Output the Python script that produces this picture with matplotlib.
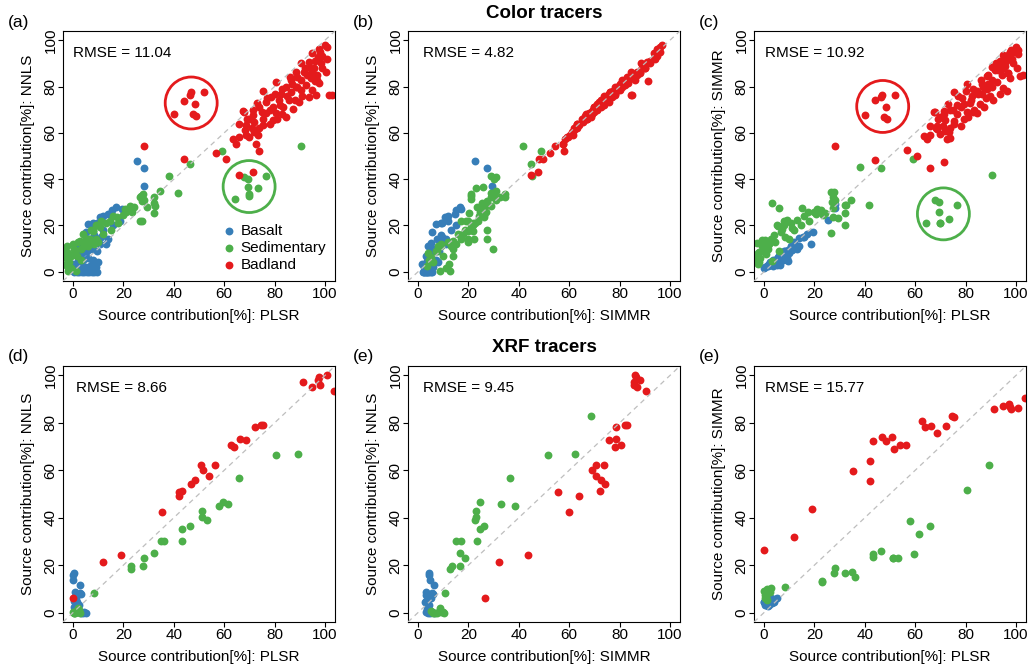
import numpy as np
import matplotlib.pyplot as plt
from matplotlib.ticker import MultipleLocator

plt.rcParams['font.family'] = ['Liberation Sans', 'DejaVu Sans']
plt.rcParams['font.size'] = 11

# Source contributions [%] per sample, columns: PLSR, NNLS, SIMMR
# --- colour tracers ---
color_basalt = [
    (0.5, 0.0, 2.0), (1.5, 0.0, 2.5), (2.5, 0.0, 3.0), (3.5, 0.0, 2.5), (4.5, 0.0, 3.5),
    (5.5, 0.0, 4.0), (6.5, 0.0, 3.0), (7.5, 0.0, 5.0), (8.5, 0.0, 5.5), (9.5, 0.0, 4.5),
    (1.0, 2.0, 2.5), (3.0, 2.5, 4.0), (5.0, 2.0, 3.0), (7.0, 3.0, 5.5), (9.0, 2.0, 6.0),
    (2.0, 4.5, 3.5), (4.0, 5.0, 4.5), (6.0, 6.0, 5.0), (8.0, 5.0, 7.0), (10.0, 4.0, 8.0),
    (1.5, 7.0, 3.0), (3.5, 8.0, 5.0), (5.5, 9.0, 6.5), (7.5, 10.0, 6.0), (9.5, 9.0, 8.5),
    (2.5, 11.0, 4.0), (4.5, 12.5, 5.0), (6.5, 14.0, 7.5), (8.5, 16.0, 9.0), (10.5, 12.0, 11.0),
    (5.0, 17.0, 5.5), (6.0, 20.5, 7.0), (8.0, 21.0, 9.0), (9.5, 21.0, 9.5), (10.5, 23.5, 10.5),
    (12.0, 24.0, 12.0), (14.0, 25.0, 14.5), (15.5, 26.5, 15.0), (17.0, 28.0, 16.5),
    (12.0, 18.0, 13.0), (14.0, 14.0, 11.0), (16.0, 20.0, 15.0), (18.5, 22.0, 12.0),
    (19.5, 27.0, 17.0), (11.0, 15.0, 9.5), (13.0, 12.0, 10.0), (0.0, 3.5, 1.5),
    (25.2, 48.0, 22.5), (28.3, 45.0, 27.5), (28.2, 36.9, 29.3),
]
color_sedimentary = [
    (90.5, 54.3, 41.7), (59.2, 52.2, 48.8), (46.3, 46.7, 44.7), (38.1, 41.3, 45.3),
    (41.7, 34.1, 28.9), (34.6, 34.7, 31.0), (32.2, 32.2, 29.0), (32.0, 29.8, 25.5),
    (32.0, 25.3, 20.2), (29.3, 27.9, 23.4), (26.6, 21.8, 16.9), (27.8, 33.7, 34.6),
    (27.2, 32.2, 32.5), (28.1, 31.1, 31.0), (27.5, 30.5, 27.5), (26.8, 32.8, 30.0),
    (67.7, 40.9, 31.0), (69.4, 40.2, 30.2), (76.6, 41.3, 29.0), (69.4, 36.6, 25.8),
    (73.4, 36.1, 22.9), (70.0, 33.4, 21.2), (69.7, 32.9, 21.2), (64.1, 31.5, 21.2),
    (-3.5, 9.0, 7.0), (-3.0, 3.5, 12.3), (-3.3, 6.5, 5.0), (-2.5, 11.0, 8.0),
    (-2.0, 8.0, 4.0), (-1.0, 6.9, 13.9), (-1.5, 4.0, 6.0), (0.0, 12.0, 9.0),
    (0.5, 10.0, 13.7), (0.8, 9.1, 7.5), (1.5, 7.0, 10.0), (2.0, 13.0, 12.0),
    (2.8, 13.4, 14.0), (3.3, 9.8, 29.6), (3.0, 5.0, 4.5), (4.1, 16.3, 16.0),
    (4.5, 11.0, 13.0), (5.0, 14.0, 20.0), (6.0, 14.2, 27.4), (6.7, 14.2, 17.0),
    (7.0, 18.0, 18.5), (8.0, 17.8, 20.0), (8.5, 12.0, 15.0), (9.0, 20.0, 22.0),
    (10.7, 19.2, 21.0), (11.0, 22.0, 19.0), (12.0, 16.3, 18.0), (13.0, 21.0, 22.5),
    (14.6, 22.1, 20.0), (15.0, 18.0, 27.4), (16.0, 24.0, 24.0), (17.3, 23.5, 26.0),
    (18.0, 21.0, 22.0), (19.9, 24.3, 26.0), (20.5, 27.0, 25.0), (21.2, 25.7, 27.0),
    (22.6, 28.6, 26.5), (23.5, 26.0, 24.5), (24.0, 28.0, 25.5), (26.5, 32.2, 34.6),
    (27.2, 22.1, 23.8), (32.4, 28.6, 28.9), (9.0, 14.0, 22.4), (8.0, 17.5, 22.0),
    (5.5, 13.0, 19.8), (-2.0, 0.5, 8.6), (-1.0, 1.5, 11.0), (1.0, 0.5, 12.5),
    (-2.5, 2.5, 3.5), (6.0, 11.0, 9.0), (10.0, 13.0, 14.0),
]
color_badland = [
    # circled group
    (51.8, 77.6, 76.3), (46.7, 77.7, 76.2), (46.6, 76.3, 75.6), (44.0, 73.8, 74.3),
    (48.5, 72.4, 71.1), (40.0, 68.1, 67.8), (47.6, 68.1, 66.8), (49.0, 67.3, 66.1),
    # scattered
    (28.1, 54.3, 54.5), (44.0, 48.7, 48.2), (56.9, 51.3, 52.5), (60.8, 48.8, 49.8),
    (65.8, 41.6, 45.0), (71.6, 43.0, 47.5), (72.7, 55.3, 57.4), (74.0, 52.2, 57.8),
    (64.8, 55.3, 57.5), (63.5, 57.5, 58.5), (67.5, 69.5, 69.0),
    # main cloud
    (101.0, 97.3, 96.0), (97.8, 96.1, 95.0), (95.0, 94.4, 93.5), (97.4, 92.9, 94.0),
    (93.8, 90.8, 91.0), (98.4, 90.0, 92.0), (90.5, 90.0, 88.5), (95.8, 87.9, 89.0),
    (91.8, 86.4, 87.0), (100.4, 86.4, 88.0), (88.5, 86.4, 84.5), (97.0, 85.0, 86.0),
    (94.5, 83.5, 85.0), (90.5, 82.8, 83.0), (86.5, 82.8, 81.0), (97.7, 81.4, 83.5),
    (92.5, 80.6, 82.0), (88.5, 79.9, 79.0), (84.6, 79.9, 78.0), (80.6, 82.1, 81.0),
    (95.0, 78.5, 79.5), (90.5, 78.5, 80.0), (86.5, 77.7, 77.0), (82.6, 77.0, 76.0),
    (101.7, 76.3, 84.5), (103.0, 76.3, 85.0), (96.4, 76.3, 78.0), (93.8, 75.6, 77.0),
    (75.3, 78.2, 77.5), (78.6, 75.6, 75.0), (81.9, 74.1, 73.0), (85.9, 74.1, 72.5),
    (89.8, 73.4, 76.0), (76.6, 73.4, 72.0), (79.3, 71.2, 72.5), (83.2, 71.2, 70.0),
    (87.2, 70.5, 71.0), (74.0, 71.2, 70.0), (71.4, 69.8, 69.5), (76.6, 68.4, 68.0),
    (80.6, 68.4, 69.0), (84.6, 66.9, 68.5), (68.0, 69.1, 69.0), (71.4, 67.6, 68.0),
    (75.3, 66.2, 65.0), (79.3, 65.5, 66.0), (72.0, 64.7, 65.5), (68.7, 63.3, 63.0),
    (75.3, 63.3, 64.0), (68.1, 61.1, 62.0), (72.0, 60.4, 61.0), (70.0, 58.2, 59.5),
    (73.3, 59.0, 60.5), (68.7, 59.0, 61.5),
    (92.0, 88.0, 90.0), (96.0, 91.0, 92.0), (99.0, 93.0, 95.0), (89.0, 84.0, 85.0),
    (93.0, 85.0, 87.0), (87.0, 81.0, 80.0), (83.0, 79.0, 79.0), (85.0, 76.0, 77.0),
    (91.0, 76.0, 74.0), (88.0, 74.0, 75.0), (82.0, 72.0, 74.0), (78.0, 70.0, 71.0),
    (80.0, 77.0, 78.0), (86.0, 84.0, 83.0), (94.0, 88.0, 89.0), (99.0, 88.0, 90.0),
    (77.0, 75.0, 76.0), (73.0, 73.0, 72.5), (70.0, 66.0, 67.0), (66.0, 64.0, 63.0),
    (69.0, 66.0, 66.0), (75.0, 69.0, 70.0), (81.0, 66.0, 67.0), (83.0, 68.0, 69.0),
    (78.0, 64.0, 63.0), (74.0, 62.0, 62.0), (66.0, 58.0, 59.0), (71.0, 62.0, 63.0),
    (89.0, 80.0, 81.0), (97.0, 83.0, 86.0), (101.0, 92.0, 94.0), (95.0, 86.0, 88.0),
    (98.0, 95.0, 96.0), (100.0, 98.0, 97.0), (96.0, 82.4, 91.1),
]

# --- XRF tracers ---
xrf_basalt = [
    (0.0, 15.8, 4.4), (0.0, 13.7, 4.6), (0.3, 16.5, 4.2), (2.6, 11.6, 6.2), (0.7, 8.8, 3.3),
    (2.6, 8.1, 5.5), (1.1, 6.0, 5.0), (1.6, 4.6, 2.8), (0.3, 2.5, 4.0), (2.0, 0.4, 3.3),
    (4.0, 0.0, 4.6), (5.0, 0.0, 6.2), (3.3, 0.0, 4.0), (1.0, 7.5, 3.0), (3.0, 8.0, 5.8),
    (4.5, 0.2, 5.5), (1.5, 1.5, 3.5), (0.5, 5.0, 3.2), (2.2, 3.0, 4.5),
]
xrf_sedimentary = [
    (8.3, 8.4, 10.8), (22.9, 19.7, 13.4), (23.1, 18.2, 12.7), (27.7, 19.7, 16.5),
    (28.0, 22.8, 18.6), (32.0, 24.9, 16.6), (35.1, 30.2, 16.9), (36.1, 30.0, 15.1),
    (43.1, 35.1, 24.6), (43.3, 30.2, 23.3), (46.5, 36.7, 26.0), (51.3, 43.0, 23.0),
    (51.2, 40.2, 23.1), (53.1, 39.2, 22.8), (57.9, 45.1, 38.5), (59.7, 46.5, 24.6),
    (61.4, 45.8, 33.0), (66.0, 56.7, 36.6), (80.4, 66.6, 51.7), (89.4, 67.0, 62.4),
    (108.0, 82.8, 68.7),
    (0.5, 0.0, 7.4), (1.3, 0.1, 9.9), (1.8, 1.8, 8.8), (0.0, 0.3, 9.1), (0.4, 0.0, 6.0),
    (2.6, 0.0, 10.3), (1.0, 0.5, 5.3), (0.8, 0.0, 6.6), (2.2, 1.0, 8.6),
]
xrf_badland = [
    (0.0, 6.3, 26.4), (11.8, 21.4, 32.0), (19.2, 24.2, 43.6), (35.2, 42.2, 59.8),
    (41.9, 50.7, 55.4), (41.9, 49.3, 64.0), (43.2, 51.4, 72.3), (46.9, 54.2, 74.2),
    (48.5, 56.0, 72.5), (50.6, 62.2, 73.9), (51.6, 60.2, 68.9), (53.8, 57.7, 70.7),
    (56.2, 62.2, 70.7), (62.8, 70.5, 80.6), (63.9, 70.0, 78.2), (66.4, 73.3, 78.6),
    (68.8, 72.9, 75.7), (72.3, 78.2, 78.6), (74.7, 79.3, 83.1), (75.4, 78.9, 82.3),
    (91.4, 97.1, 85.9), (94.7, 95.1, 87.0), (97.8, 99.3, 86.7), (97.1, 98.2, 88.0),
    (98.2, 96.1, 85.9), (100.7, 100.1, 86.3), (103.7, 93.3, 90.5),
]

sources = ['Basalt', 'Sedimentary', 'Badland']
colors = ['#377EB8', '#4DAF4A', '#E41A1C']
methods = ['PLSR', 'NNLS', 'SIMMR']

panel_labels = ['(a)', '(b)', '(c)', '(d)', '(e)', '(e)']
panel_x = ['PLSR', 'SIMMR', 'PLSR', 'PLSR', 'SIMMR', 'PLSR']
panel_y = ['NNLS', 'NNLS', 'SIMMR', 'NNLS', 'NNLS', 'SIMMR']
rmse = [11.04, 4.82, 10.92, 8.66, 9.45, 15.77]
row_titles = ['Color tracers', 'XRF tracers']

# circled groups (panel, centre x, centre y, colour index)
circle_panel = [0, 0, 2, 2]
circle_x = [46.9, 69.9, 47.1, 71.2]
circle_y = [72.9, 36.8, 71.4, 25.0]
circle_src = [2, 1, 2, 1]

W, H = 1033, 671
fig = plt.figure(figsize=(W / 100, H / 100), dpi=100)

col_left = [63, 408, 754]
row_box = [(31, 281), (366, 622)]
box_w = 272
rmse_dx = [10, 15, 11, 13, 15, 11]

datasets = [[color_basalt, color_sedimentary, color_badland],
            [xrf_basalt, xrf_sedimentary, xrf_badland]]

axes = []
for i in range(6):
    row, col = divmod(i, 3)
    top, bot = row_box[row]
    ax = fig.add_axes([col_left[col] / W, 1 - bot / H, box_w / W, (bot - top) / H])
    axes.append(ax)
    xi = methods.index(panel_x[i])
    yi = methods.index(panel_y[i])

    for src, colr, data in zip(sources, colors, datasets[row]):
        arr = np.array(data)
        ax.scatter(arr[:, xi], arr[:, yi], s=32, color=colr, linewidths=0,
                   zorder=2, label=src)

    ax.axline((0, 0), (1, 1), color='#BEBEBE', lw=0.9, ls=(0, (4, 3.3)), zorder=3)

    ax.set_xlim(-4, 104)
    ax.set_ylim(-4, 104)
    ax.xaxis.set_major_locator(MultipleLocator(20))
    ax.yaxis.set_major_locator(MultipleLocator(20))
    ax.tick_params(direction='out', length=3.5, width=0.8, pad=0.5, labelsize=11)
    for lab in ax.get_yticklabels():
        lab.set_rotation(90)
        lab.set_va('center')
    for sp in ax.spines.values():
        sp.set_linewidth(0.8)

    ax.set_xlabel(f'Source contribution[%]: {panel_x[i]}')
    ax.set_ylabel(f'Source contribution[%]: {panel_y[i]}')
    ax.xaxis.set_label_coords(0.5, -35 / (bot - top))
    ax.xaxis.label.set_va('center')
    ax.yaxis.set_label_coords(-35 / box_w, 0.5)
    ax.yaxis.label.set_va('center')

    ax.annotate(f'RMSE = {rmse[i]:.2f}', xy=(0, 1), xycoords='axes fraction',
                xytext=(rmse_dx[i], -22), textcoords='offset pixels',
                ha='left', va='center', fontsize=11)

    fig.text((col_left[col] - 55) / W, 1 - (top - 9) / H, panel_labels[i],
             ha='left', va='center', fontsize=12.5)

for p, cx, cy, s in zip(circle_panel, circle_x, circle_y, circle_src):
    axes[p].scatter([cx], [cy], s=1400, facecolors='none', edgecolors=colors[s],
                    linewidths=2, zorder=4)

axes[0].legend(loc='lower left', bbox_to_anchor=(0.59, 0.035), frameon=False,
               scatterpoints=1, handlelength=0.7, handletextpad=0.4,
               labelspacing=0.2, borderpad=0, borderaxespad=0, fontsize=11)

for row, title in enumerate(row_titles):
    top = row_box[row][0]
    fig.text((col_left[1] + box_w / 2) / W, 1 - (top - 18) / H, title,
             ha='center', va='center', fontsize=13.5, fontweight='bold')

fig.savefig('out.png', dpi=100)
